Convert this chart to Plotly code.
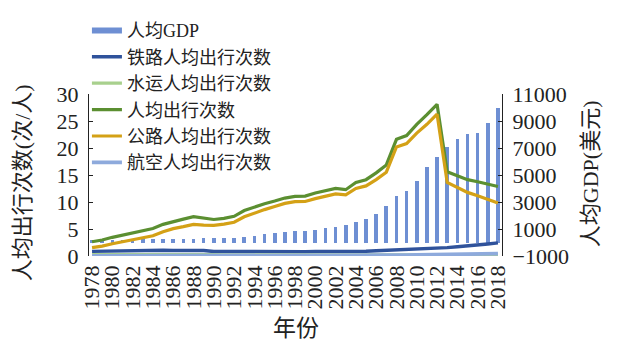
import plotly.graph_objects as go

years = list(range(1978, 2019))

gdp_per_capita = [156, 183, 195, 197, 203, 225, 251, 294, 282, 252, 284, 311, 318, 333,
                  366, 377, 473, 610, 709, 782, 829, 873, 959, 1053, 1149, 1289, 1509,
                  1753, 2099, 2694, 3468, 3832, 4550, 5618, 6317, 7051, 7679, 8067, 8148,
                  8879, 9977]

rail_trips = [0.85, 0.89, 0.93, 0.95, 0.98, 1.03, 1.09, 1.06, 1.01, 1.03, 1.10, 1.01, 0.84,
              0.82, 0.85, 0.89, 0.91, 0.85, 0.78, 0.76, 0.76, 0.80, 0.83, 0.82, 0.82, 0.75,
              0.86, 0.88, 0.96, 1.03, 1.10, 1.14, 1.25, 1.38, 1.40, 1.55, 1.72, 1.84, 2.04,
              2.22, 2.42]

water_trips = [0.24, 0.25, 0.27, 0.28, 0.28, 0.26, 0.25, 0.29, 0.32, 0.36, 0.32, 0.28, 0.24,
               0.23, 0.23, 0.23, 0.22, 0.20, 0.19, 0.18, 0.17, 0.15, 0.15, 0.15, 0.15, 0.13,
               0.15, 0.16, 0.17, 0.17, 0.15, 0.17, 0.17, 0.18, 0.19, 0.17, 0.19, 0.20, 0.20,
               0.20, 0.20]

total_trips = [2.64, 2.97, 3.46, 3.84, 4.22, 4.57, 5.08, 5.86, 6.40, 6.83, 7.29, 7.02, 6.76,
               6.96, 7.35, 8.41, 9.12, 9.68, 10.18, 10.73, 11.05, 11.09, 11.67, 12.02, 12.52,
               12.28, 13.60, 14.13, 15.40, 16.86, 21.60, 22.31, 24.38, 26.17, 28.09, 15.60,
               14.86, 14.14, 13.74, 13.30, 12.86]

road_trips = [1.55, 1.83, 2.26, 2.61, 2.96, 3.27, 3.74, 4.50, 5.06, 5.43, 5.86, 5.72, 5.67,
              5.89, 6.25, 7.26, 7.96, 8.59, 9.17, 9.74, 10.08, 10.09, 10.63, 10.99, 11.49,
              11.33, 12.50, 12.98, 14.15, 15.52, 20.20, 20.83, 22.77, 24.39, 26.27, 13.62,
              12.69, 11.78, 11.16, 10.48, 9.80]

air_trips = [0.00, 0.00, 0.00, 0.00, 0.00, 0.00, 0.01, 0.01, 0.01, 0.01, 0.01, 0.01, 0.01,
             0.02, 0.02, 0.03, 0.03, 0.04, 0.05, 0.05, 0.05, 0.05, 0.05, 0.06, 0.07, 0.07,
             0.09, 0.11, 0.12, 0.14, 0.15, 0.17, 0.20, 0.22, 0.24, 0.26, 0.29, 0.32, 0.35,
             0.40, 0.44]

tick_years = list(range(1978, 2019, 2))
left_ticks = [0, 5, 10, 15, 20, 25, 30]
right_ticks = [-1000, 1000, 3000, 5000, 7000, 9000, 11000]
right_ticktext = ["\u22121000", "1000", "3000", "5000", "7000", "9000", "11000"]

FONT = "Liberation Serif, 'Times New Roman', 'Noto Sans CJK SC', serif"
BAR_C = "#6e8fd3"
RAIL_C = "#2f529b"
WATER_C = "#a8d08d"
TOTAL_C = "#5b8f31"
ROAD_C = "#d4a116"
AIR_C = "#8eaadc"

fig = go.Figure()

fig.add_trace(go.Bar(x=years, y=gdp_per_capita, name="人均GDP", marker_color=BAR_C,
                     marker_line_width=0, width=0.36, showlegend=False,
                     legendgroup="gdp", yaxis="y"))
# legend proxy for the bar series (wide flat swatch as in the reference)
fig.add_trace(go.Scatter(x=[None], y=[None], mode="lines", name="人均GDP",
                         line=dict(color=BAR_C, width=6), legendgroup="gdp", yaxis="y"))

for name, vals, col, w in [("铁路人均出行次数", rail_trips, RAIL_C, 3.4),
                           ("水运人均出行次数", water_trips, WATER_C, 3.2),
                           ("人均出行次数", total_trips, TOTAL_C, 3.2),
                           ("公路人均出行次数", road_trips, ROAD_C, 3.2),
                           ("航空人均出行次数", air_trips, AIR_C, 3.8)]:
    fig.add_trace(go.Scatter(x=years, y=vals, mode="lines", name=name,
                             line=dict(color=col, width=w), yaxis="y2"))

fig.update_layout(
    width=620, height=353,
    margin=dict(l=89, r=118, t=92, b=97),
    paper_bgcolor="white", plot_bgcolor="white",
    font=dict(family=FONT, size=20, color="#222222"),
    bargap=0,
    xaxis=dict(range=[1977.7, 2018.4], tickmode="array", tickvals=tick_years,
               ticktext=[str(y) for y in tick_years], tickangle=-90,
               tickfont=dict(size=22), showgrid=False, zeroline=False,
               showline=False, ticks="", ticklabelstandoff=4),
    yaxis=dict(side="right", range=[-1000, 11000], tickmode="array",
               tickvals=right_ticks, ticktext=right_ticktext, showgrid=False,
               zeroline=False, showline=True, linecolor="#222222", linewidth=1.2,
               ticks="inside", ticklen=4, tickcolor="#222222",
               tickfont=dict(size=22), ticklabelstandoff=5),
    yaxis2=dict(side="left", overlaying="y", range=[0, 30], tickmode="array",
                tickvals=left_ticks, ticktext=[str(v) for v in left_ticks],
                showgrid=False, zeroline=False,
                showline=True, linecolor="#222222", linewidth=1.2,
                ticks="inside", ticklen=4, tickcolor="#222222",
                tickfont=dict(size=22), ticklabelstandoff=5),
    legend=dict(x=-0.005, y=1.505, xanchor="left", yanchor="top",
                bgcolor="rgba(0,0,0,0)", font=dict(size=18),
                tracegroupgap=0, itemwidth=30),
    annotations=[
        dict(text="人均出行次数(次/人)", xref="paper", yref="paper", x=-0.162, y=0.45,
             showarrow=False, textangle=-90, font=dict(size=22),
             xanchor="center", yanchor="middle"),
        dict(text="人均GDP(美元)", xref="paper", yref="paper", x=1.215, y=0.51,
             showarrow=False, textangle=-90, font=dict(size=22),
             xanchor="center", yanchor="middle"),
        dict(text="年份", xref="paper", yref="paper", x=0.5, y=-0.445,
             showarrow=False, font=dict(size=23),
             xanchor="center", yanchor="middle"),
    ],
)

fig.write_html("out.html")
